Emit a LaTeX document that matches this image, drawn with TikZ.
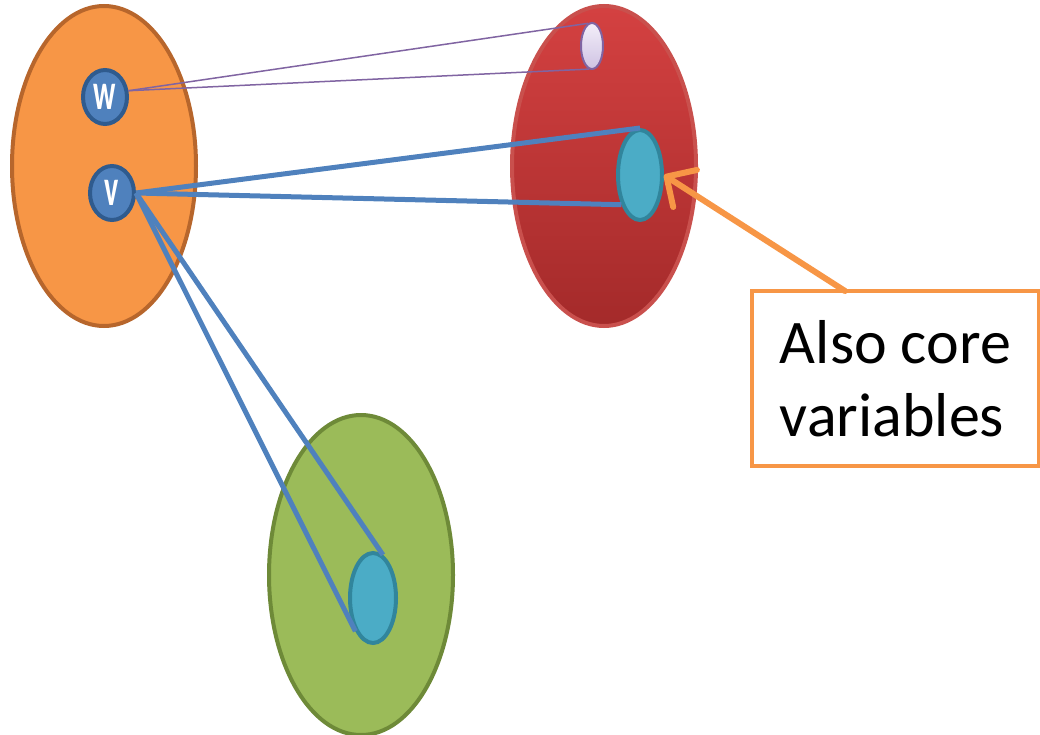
\documentclass[tikz,border=0pt]{standalone}
\usepackage{fontspec}
\setmainfont{Carlito}
\usetikzlibrary{shapes.geometric,arrows.meta,calc}
\definecolor{orfill}{HTML}{F79646}
\definecolor{ordraw}{HTML}{B7662C}
\definecolor{redtop}{HTML}{D44141}
\definecolor{redbot}{HTML}{A42A2A}
\definecolor{reddraw}{HTML}{C9504D}
\definecolor{grfill}{HTML}{9BBB59}
\definecolor{grdraw}{HTML}{6E8A38}
\definecolor{bluefill}{HTML}{4F81BD}
\definecolor{bluedraw}{HTML}{2F5B8E}
\definecolor{cyfill}{HTML}{4BACC6}
\definecolor{cydraw}{HTML}{31859C}
\definecolor{lavtop}{HTML}{F3EEF9}
\definecolor{lavbot}{HTML}{CFC3E3}
\definecolor{purp}{HTML}{8064A2}
\definecolor{linkblue}{HTML}{4F81BD}
\newcommand{\varlabel}[1]{\raisebox{-1pt}{\scalebox{0.75}[1.3]{#1}}}
\tikzset{
  blob/.style={ellipse, inner sep=0pt, line width=4pt, minimum width=184pt, minimum height=320pt},
  varnode/.style={ellipse, inner sep=0pt, minimum width=44pt, minimum height=54pt,
    fill=bluefill, draw=bluedraw, line width=4pt, text=white,
    font=\bfseries\fontsize{40}{40}\selectfont},
  coreset/.style={ellipse, inner sep=0pt, fill=cyfill, draw=cydraw, line width=4pt,
    minimum width=44pt, minimum height=90pt},
  thinlink/.style={draw=purp, line width=1.5pt},
  thicklink/.style={draw=linkblue, line width=5pt},
  callout/.style={draw=orfill, line width=3.5pt, fill=white, minimum width=287pt,
    minimum height=175pt, align=left, inner sep=0pt,
    font=\fontsize{62}{73}\selectfont},
  pointer/.style={draw=orfill, line width=6pt, line cap=round,
    -{Straight Barb[length=22pt,width=44pt,line width=6pt,round]}}
}
\begin{document}
\begin{tikzpicture}[x=1pt,y=-1pt]
\useasboundingbox (0,0) rectangle (1040,735);
% three sets
\node[blob, fill=orfill, draw=ordraw] (orange) at (104,166) {};
\node[blob, top color=redtop, bottom color=redbot, draw=reddraw] (red) at (604,166) {};
\node[blob, fill=grfill, draw=grdraw] (green) at (361,575) {};
% variables
\node[varnode] (w) at (105,97) {\varlabel{w}};
\node[varnode] (v) at (112,193) {\varlabel{v}};
% images inside the other sets
\node[ellipse, inner sep=0pt, minimum width=22pt, minimum height=46pt,
  top color=lavtop, bottom color=lavbot, draw=purp, line width=2pt] (sm) at (592,46) {};
\node[coreset] (c1) at (640,175) {};
\node[coreset, minimum width=46pt] (c2) at (373,598) {};
% links
\draw[thinlink] (w.15) -- (sm.100);
\draw[thinlink] (w.15) -- (sm.262);
\draw[thicklink] (v.east) -- (c1.north);
\draw[thicklink] (v.east) -- (c1.238);
\draw[thicklink] (v.east) -- (c2.77);
\draw[thicklink] (v.east) -- (c2.242);
% callout
\node[callout] (box) at (895.5,378.5) {Also core\\variables};
\coordinate (tail) at (845,291);
\draw[pointer] (tail) -- (c1.east);
\end{tikzpicture}
\end{document}
